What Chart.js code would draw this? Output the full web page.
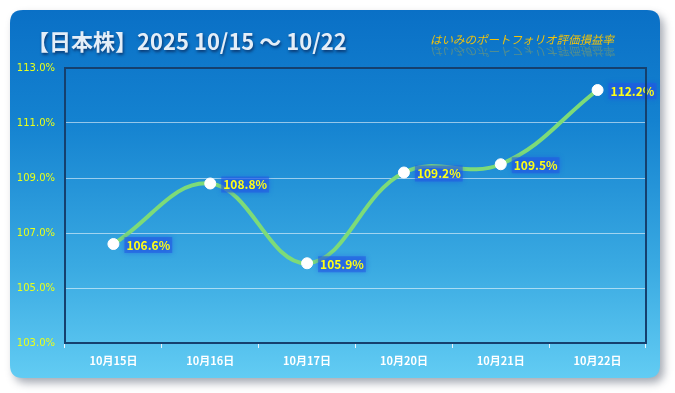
<!DOCTYPE html>
<html>
<head>
<meta charset="utf-8">
<script src="https://cdn.jsdelivr.net/npm/chart.js@4/dist/chart.umd.min.js"></script>
<style>
  html, body { margin: 0; padding: 0; background: #ffffff; }
  canvas { display: block; }
</style>
</head>
<body>
<canvas id="c" width="675" height="393"></canvas>
<script>
const labels = ['10月15日', '10月16日', '10月17日', '10月20日', '10月21日', '10月22日'];
const values = [106.6, 108.8, 105.9, 109.2, 109.5, 112.2];
const yMin = 103, yMax = 113, yStep = 2;
const titleText = '【日本株】2025 10/15 〜 10/22';
const subText = 'はいみのポートフォリオ評価損益率';

const jp = '"Noto Sans CJK JP", "Noto Sans", sans-serif';

function roundRect(ctx, x, y, w, h, r) {
    ctx.beginPath();
    ctx.moveTo(x + r, y);
    ctx.lineTo(x + w - r, y);
    ctx.quadraticCurveTo(x + w, y, x + w, y + r);
    ctx.lineTo(x + w, y + h - r);
    ctx.quadraticCurveTo(x + w, y + h, x + w - r, y + h);
    ctx.lineTo(x + r, y + h);
    ctx.quadraticCurveTo(x, y + h, x, y + h - r);
    ctx.lineTo(x, y + r);
    ctx.quadraticCurveTo(x, y, x + r, y);
    ctx.closePath();
}

// card background + titles
const cardPlugin = {
    id: 'card',
    beforeDraw(chart) {
        const ctx = chart.ctx;
        ctx.save();
        ctx.shadowColor = 'rgba(60,70,90,0.45)';
        ctx.shadowBlur = 8;
        ctx.shadowOffsetX = 4;
        ctx.shadowOffsetY = 5;
        roundRect(ctx, 10, 10, 650, 368, 13);
        const g = ctx.createLinearGradient(0, 10, 0, 378);
        g.addColorStop(0, '#0a70c6');
        g.addColorStop(0.3, '#1482d0');
        g.addColorStop(0.7, '#3aaae2');
        g.addColorStop(1, '#62ccf3');
        ctx.fillStyle = g;
        ctx.fill();
        ctx.restore();

        // title
        ctx.save();
        ctx.font = 'bold 22px ' + jp;
        ctx.textBaseline = 'alphabetic';
        ctx.shadowColor = 'rgba(10,40,90,0.8)';
        ctx.shadowBlur = 3;
        ctx.shadowOffsetX = 1;
        ctx.shadowOffsetY = 2;
        ctx.fillStyle = '#e4eef8';
        ctx.fillText(titleText, 27, 50);
        ctx.restore();

        // subtitle with reflection
        ctx.save();
        ctx.font = 'italic 11.5px ' + jp;
        ctx.fillStyle = '#f2c20a';
        ctx.fillText(subText, 430, 44);
        ctx.translate(0, 88);
        ctx.scale(1, -1);
        ctx.globalAlpha = 0.3;
        ctx.fillText(subText, 430, 41);
        ctx.restore();
    },
    afterDraw(chart) {
        const ctx = chart.ctx;
        const a = chart.chartArea;
        ctx.save();
        ctx.strokeStyle = '#15406e';
        ctx.lineWidth = 2;
        ctx.beginPath();
        ctx.moveTo(a.left, a.bottom);
        ctx.lineTo(a.left, a.top);
        ctx.lineTo(a.right, a.top);
        ctx.lineTo(a.right, a.bottom);
        ctx.stroke();
        ctx.restore();
    }
};

// value labels next to points
const valueLabels = {
    id: 'valueLabels',
    afterDatasetsDraw(chart) {
        const ctx = chart.ctx;
        const meta = chart.getDatasetMeta(0);
        ctx.save();
        ctx.font = 'bold 12px ' + jp;
        ctx.textAlign = 'left';
        ctx.textBaseline = 'middle';
        meta.data.forEach((pt, i) => {
            const txt = values[i].toFixed(1) + '%';
            const x = pt.x + 13, y = pt.y + 1;
            const w = ctx.measureText(txt).width;
            ctx.save();
            ctx.shadowColor = 'rgba(30,80,230,0.9)';
            ctx.shadowBlur = 5;
            ctx.fillStyle = 'rgba(35,90,225,0.55)';
            ctx.fillRect(x - 2, y - 8, w + 4, 16);
            ctx.restore();
            ctx.fillStyle = '#ffff14';
            ctx.fillText(txt, x, y);
        });
        ctx.restore();
    }
};

new Chart(document.getElementById('c'), {
    type: 'line',
    data: {
        labels: labels,
        datasets: [{
            data: values,
            borderColor: '#7ddb78',
            borderWidth: 4,
            tension: 0.4,
            fill: false,
            pointRadius: 5.5,
            pointBackgroundColor: '#ffffff',
            pointBorderColor: '#ffffff',
            pointBorderWidth: 1
        }]
    },
    options: {
        responsive: false,
        animation: false,
        devicePixelRatio: 1,
        layout: { padding: { top: 68, right: 29, left: 0, bottom: 0 } },
        plugins: { legend: { display: false }, tooltip: { enabled: false } },
        scales: {
            x: {
                offset: true,
                afterFit(s) { s.height = 50; },
                grid: { drawOnChartArea: false, drawTicks: true, tickLength: 5, color: '#e8f4fc', offset: true },
                border: { display: true, color: '#15406e', width: 2 },
                ticks: {
                    color: '#ffffff',
                    padding: 6,
                    font: { family: jp, size: 11, weight: 'bold' }
                }
            },
            y: {
                min: yMin,
                max: yMax,
                afterFit(s) { s.width = 65; },
                grid: { color: 'rgba(255,255,255,0.55)', lineWidth: 1, drawTicks: false },
                border: { display: true, color: '#15406e', width: 2 },
                ticks: {
                    stepSize: yStep,
                    padding: 10,
                    color: '#eaff1a',
                    font: { family: '"DejaVu Sans", sans-serif', size: 10 },
                    callback: v => v.toFixed(1) + '%'
                }
            }
        }
    },
    plugins: [cardPlugin, valueLabels]
});
</script>
</body>
</html>
